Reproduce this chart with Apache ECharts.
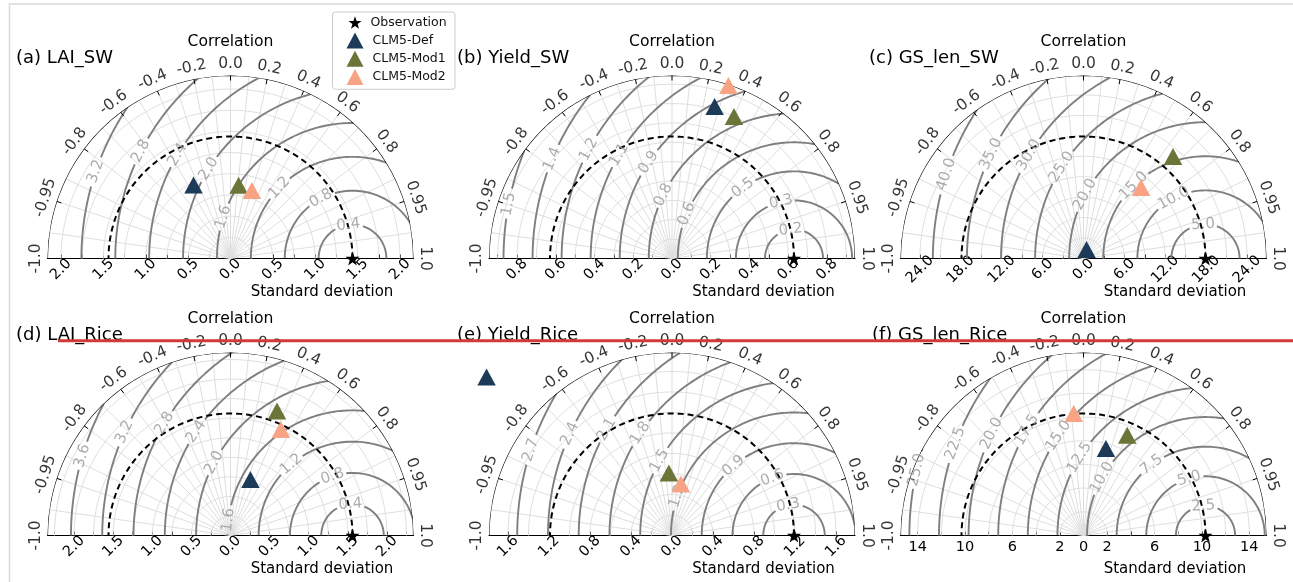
<!DOCTYPE html>
<html>
<head>
<meta charset="utf-8">
<script src="https://cdn.jsdelivr.net/npm/echarts@6/dist/echarts.min.js"></script>
<style>
  html, body { margin: 0; padding: 0; background: #ffffff; }
  #chart { width: 1293px; height: 582px; }
</style>
</head>
<body>
<div id="chart"></div>
<script>
// ---------- values ----------
const panelTitles = ['(a) LAI_SW', '(b) Yield_SW', '(c) GS_len_SW',
                     '(d) LAI_Rice', '(e) Yield_Rice', '(f) GS_len_Rice'];
const seriesNames = ['Observation', 'CLM5-Def', 'CLM5-Mod1', 'CLM5-Mod2'];

// standard deviation of the observations (reference point)
const obsStd   = [1.44, 0.63, 17.9, 1.56, 1.19, 10.3];
// models: standard deviation and correlation with the observations
const defStd   = [0.97, 0.815, 1.4, 0.76, 2.38, 7.58];
const defCorr  = [-0.45, 0.27, 0.32, 0.335, -0.76, 0.25];
const mod1Std  = [0.87, 0.80, 19.9, 1.70, 0.61, 9.23];
const mod1Corr = [0.11, 0.40, 0.66, 0.35, -0.05, 0.40];
const mod2Std  = [0.84, 0.94, 13.4, 1.50, 0.51, 10.34];
const mod2Corr = [0.30, 0.31, 0.63, 0.43, 0.17, -0.08];

// centred RMS difference contour levels
const rmsLevels = [
  [0.4, 0.8, 1.2, 1.6, 2.0, 2.4, 2.8, 3.2],
  [0.15, 0.3, 0.45, 0.6, 0.75, 0.9, 1.05, 1.2, 1.35, 1.5],
  [5, 10, 15, 20, 25, 30, 35, 40],
  [0.4, 0.8, 1.2, 1.6, 2.0, 2.4, 2.8, 3.2, 3.6],
  [0.3, 0.6, 0.9, 1.2, 1.5, 1.8, 2.1, 2.4, 2.7],
  [2.5, 5, 7.5, 10, 12.5, 15, 17.5, 20, 22.5, 25]
];

// standard deviation axis: labelled ticks, minor tick step, decimals
const stdLabelTicks = [
  [0, 0.5, 1.0, 1.5, 2.0],
  [0, 0.2, 0.4, 0.6, 0.8],
  [0, 6, 12, 18, 24],
  [0, 0.5, 1.0, 1.5, 2.0],
  [0, 0.4, 0.8, 1.2, 1.6],
  [0, 2, 6, 10, 14]
];
const stdTickStep   = [0.25, 0.1, 3, 0.25, 0.2, 2];
const stdDecimals   = [1, 1, 1, 1, 1, 0];
const stdLabelTilt  = [45, 45, 45, 45, 45, 0];

// correlation axis
const corrTicks = [-1.0, -0.95, -0.8, -0.6, -0.4, -0.2, 0.0, 0.2, 0.4, 0.6, 0.8, 0.95, 1.0];
const corrGrid  = [-0.99, -0.95, -0.9, -0.8, -0.7, -0.6, -0.5, -0.4, -0.3, -0.2, -0.1,
                   0.0, 0.1, 0.2, 0.3, 0.4, 0.5, 0.6, 0.7, 0.8, 0.9, 0.95, 0.99];

// ---------- layout ----------
const R = 183;
const colX = [230.5, 672, 1083.5];
const rowY = [258.5, 535.5];
const titleX = [16, 457, 869, 16, 457, 872];
// where each RMS label sits on its circle (degrees around the reference point)
const rmsLabelAngles = [
  [96.8, 117.8, 136, 162.2, 148, 149.3, 153.1, 161.3],
  [96.7, 103, 125.9, 157.5, 154, 146.5, 149.3, 152, 157.6, 169.2],
  [94.1, 117.8, 134.6, 152, 147.5, 149.6, 154, 162],
  [93.8, 108.6, 130.7, 172.8, 152.2, 146.4, 149.2, 155.6, 163.6],
  [100.8, 110.6, 130.9, 161.4, 150.9, 146.3, 150.5, 155.6, 162],
  [94, 106, 127.3, 150.7, 148.2, 145.8, 149.4, 154.5, 159.8, 167.2]
];

const FONT = 'DejaVu Sans';
const COLORS = { obs: '#000000', def: '#1d3a58', mod1: '#6a7537', mod2: '#f7a384' };
const GRID_COLOR = '#dedede';
const RMS_COLOR = '#7f7f7f';
const RMS_LABEL_COLOR = '#999999';
const STAR = 'path://M0,-10L2.35,-3.24L9.51,-3.09L3.8,1.24L5.88,8.09L0,4L-5.88,8.09L-3.8,1.24L-9.51,-3.09L-2.35,-3.24Z';
const BREAK = ['-', '-'];

const toDeg = 180 / Math.PI;
const acosDeg = c => Math.acos(Math.max(-1, Math.min(1, c))) * toDeg;

function fmtCorr(v) {
  const t = Math.round(v * 10);
  return Math.abs(v * 10 - t) < 1e-9 ? (t / 10).toFixed(1) : v.toFixed(2);
}
function fmtRms(v) { return (Math.round(v * 10 + 1e-9) / 10).toFixed(1); }
function textWidth(str, size) {
  let w = 0;
  for (const ch of str) w += (ch === '.' ? 0.318 : 0.636);
  return w * size;
}

const polar = [], angleAxis = [], radiusAxis = [], grid = [], xAxis = [], yAxis = [];
const series = [];
const texts = [];

function lineSeries(i, data, color, width, z, extra) {
  return Object.assign({
    type: 'line', coordinateSystem: 'polar', polarIndex: i,
    data: data, showSymbol: false, symbol: 'none', silent: true, animation: false,
    connectNulls: false, clip: false, z: z,
    lineStyle: { color: color, width: width }
  }, extra || {});
}

function markerSeries(i, name, symbol, size, color, point) {
  return {
    type: 'scatter', name: name, coordinateSystem: 'polar', polarIndex: i,
    animation: false, clip: false, z: 10, symbol: symbol, symbolSize: size,
    itemStyle: { color: color, opacity: 1 },
    emphasis: { disabled: true },
    data: [point]
  };
}

for (let i = 0; i < 6; i++) {
  const cx = colX[i % 3], cy = rowY[Math.floor(i / 3)];
  const ref = obsStd[i];
  const smax = 1.5 * ref;
  const ppu = R / smax;

  polar.push({ center: [cx, cy], radius: R });
  angleAxis.push({
    polarIndex: i, type: 'value', min: 0, max: 360, startAngle: 0, clockwise: false,
    axisLine: { show: false }, axisTick: { show: false }, axisLabel: { show: false },
    splitLine: { show: false }
  });
  radiusAxis.push({
    polarIndex: i, type: 'value', min: 0, max: smax,
    axisLine: { show: false }, axisTick: { show: false }, axisLabel: { show: false },
    splitLine: { show: false }
  });

  // baseline with the standard deviation ticks (both directions from the origin)
  const step = stdTickStep[i];
  const tickVals = [];
  const nStep = Math.floor(smax / step + 1e-9);
  for (let k = -nStep; k <= nStep; k++) tickVals.push(+(k * step).toFixed(6));
  const labelVals = [];
  stdLabelTicks[i].forEach(v => { labelVals.push(v); if (v !== 0) labelVals.unshift(-v); });
  labelVals.sort((a, b) => a - b);

  grid.push({ left: cx - R, top: cy - R, width: 2 * R, height: R });
  const tilt = stdLabelTilt[i];
  xAxis.push({
    gridIndex: i, type: 'value', min: -smax, max: smax,
    axisLine: { show: true, onZero: false, lineStyle: { color: '#000', width: 1.2 } },
    axisTick: { show: true, inside: true, length: 4, customValues: tickVals,
                lineStyle: { color: '#000', width: 1 } },
    axisLabel: {
      show: true, customValues: labelVals, rotate: tilt,
      align: 'center', verticalAlign: tilt ? 'middle' : 'top',
      margin: tilt ? 11 : 4,
      fontFamily: FONT, fontSize: 14.5, color: '#000',
      formatter: v => Math.abs(v).toFixed(stdDecimals[i])
    },
    splitLine: { show: false }
  });
  yAxis.push({ gridIndex: i, type: 'value', min: 0, max: smax, show: false });

  // light grid: circles at every std tick and radial lines at correlations
  const gridPts = [];
  for (let k = 1; k <= nStep; k++) {
    const v = k * step;
    if (v >= smax - 1e-9) continue;
    for (let th = 0; th <= 180; th += 1) gridPts.push([v, th]);
    gridPts.push(BREAK);
  }
  corrGrid.forEach(c => { const th = acosDeg(c); gridPts.push([0, th], [smax, th], BREAK); });
  series.push(lineSeries(i, gridPts, GRID_COLOR, 1, 1));

  // centred RMS difference circles around the reference point, with label gaps
  const rmsPts = [];
  const rmsLabels = [];
  rmsLevels[i].forEach((d, j) => {
    const cosMin = (smax * smax - ref * ref - d * d) / (2 * ref * d);
    if (cosMin <= -1) return;
    const phiStart = cosMin >= 1 ? 0 : acosDeg(cosMin);
    const text = fmtRms(d);
    const labPhi = rmsLabelAngles[i][j];
    const halfGap = (textWidth(text, 15) / 2 + 2) / (d * ppu) * toDeg;
    const phis = [];
    for (let p = phiStart; p < 180; p += 0.5) phis.push(p);
    phis.push(180);
    let inGap = false;
    phis.forEach(p => {
      if (labPhi != null && Math.abs(p - labPhi) < halfGap) {
        if (!inGap) rmsPts.push(BREAK);
        inGap = true;
        return;
      }
      inGap = false;
      const x = ref + d * Math.cos(p / toDeg), y = d * Math.sin(p / toDeg);
      rmsPts.push([Math.hypot(x, y), Math.atan2(y, x) * toDeg]);
    });
    rmsPts.push(BREAK);
    if (labPhi != null) {
      const x = ref + d * Math.cos(labPhi / toDeg), y = d * Math.sin(labPhi / toDeg);
      rmsLabels.push({
        value: [Math.hypot(x, y), Math.atan2(y, x) * toDeg],
        label: { formatter: text, rotate: labPhi - 90 }
      });
    }
  });
  series.push(lineSeries(i, rmsPts, RMS_COLOR, 1.9, 2));
  series.push({
    type: 'scatter', coordinateSystem: 'polar', polarIndex: i, silent: true, animation: false,
    clip: false, z: 5, symbolSize: 1, itemStyle: { color: 'rgba(0,0,0,0)' },
    label: { show: true, position: 'inside', align: 'center', verticalAlign: 'middle',
             color: RMS_LABEL_COLOR, fontFamily: FONT, fontSize: 15, textBorderWidth: 0 },
    data: rmsLabels
  });

  // outer arc and correlation ticks
  const arc = [];
  for (let th = 0; th <= 180; th += 0.5) arc.push([smax, th]);
  series.push(lineSeries(i, arc, '#000', 1.2, 3));
  const ticks = [];
  corrTicks.forEach(c => {
    if (Math.abs(c) === 1) return;
    const th = acosDeg(c);
    ticks.push([smax, th], [smax - 5 / ppu, th], BREAK);
  });
  series.push(lineSeries(i, ticks, '#000', 1, 3));

  // correlation tick labels
  series.push({
    type: 'scatter', coordinateSystem: 'polar', polarIndex: i, silent: true, animation: false,
    clip: false, z: 5, symbolSize: 1, itemStyle: { color: 'rgba(0,0,0,0)' },
    label: { show: true, position: 'inside', align: 'center', verticalAlign: 'middle',
             color: '#000', fontFamily: FONT, fontSize: 15.5, textBorderWidth: 0 },
    data: corrTicks.map(c => {
      const th = acosDeg(c);
      return { value: [smax * (R + 12) / R, th], label: { formatter: fmtCorr(c), rotate: th - 90 } };
    })
  });

  // reference standard deviation (dashed arc)
  const refArc = [];
  for (let th = 0; th <= 180; th += 0.5) refArc.push([ref, th]);
  series.push(lineSeries(i, refArc, '#000', 2, 4, { lineStyle: { color: '#000', width: 2, type: [6, 4] } }));

  // observation and models
  series.push(markerSeries(i, seriesNames[0], STAR, 14, COLORS.obs, [ref, 0]));
  series.push(markerSeries(i, seriesNames[1], 'triangle', [18.5, 17], COLORS.def, [defStd[i], acosDeg(defCorr[i])]));
  series.push(markerSeries(i, seriesNames[2], 'triangle', [18.5, 17], COLORS.mod1, [mod1Std[i], acosDeg(mod1Corr[i])]));
  series.push(markerSeries(i, seriesNames[3], 'triangle', [18.5, 17], COLORS.mod2, [mod2Std[i], acosDeg(mod2Corr[i])]));

  // panel texts
  texts.push({ type: 'text', x: titleX[i], y: cy - 200, z: 20,
               style: { text: panelTitles[i], font: '18px "' + FONT + '"', fill: '#000',
                        textAlign: 'left', textVerticalAlign: 'middle' } });
  texts.push({ type: 'text', x: cx, y: cy - 217, z: 20,
               style: { text: 'Correlation', font: '15.6px "' + FONT + '"', fill: '#000',
                        textAlign: 'center', textVerticalAlign: 'middle' } });
  texts.push({ type: 'text', x: cx + 91.5, y: cy + 33.5, z: 20,
               style: { text: 'Standard deviation', font: '15px "' + FONT + '"', fill: '#000',
                        textAlign: 'center', textVerticalAlign: 'middle' } });
}

const legendText = { fontFamily: FONT, fontSize: 12.5, color: '#111', padding: [0, 0, 0, 4] };

const option = {
  backgroundColor: '#ffffff',
  animation: false,
  polar, angleAxis, radiusAxis, grid, xAxis, yAxis, series,
  legend: [
    { left: 348.5, top: 16, orient: 'vertical', padding: 0, itemWidth: 13, itemHeight: 13,
      selectedMode: false, z: 6, textStyle: legendText,
      data: [{ name: seriesNames[0], icon: STAR }] },
    { left: 346.5, top: 32.5, orient: 'vertical', padding: 0, itemGap: 2.3,
      itemWidth: 17, itemHeight: 16, selectedMode: false, z: 6, textStyle: legendText,
      data: seriesNames.slice(1).map(n => ({ name: n, icon: 'triangle' })) }
  ],
  graphic: {
    elements: [
      { type: 'polyline', z: 0, silent: true,
        shape: { points: [[9.5, 582], [9.5, 4], [1293, 4]] },
        style: { stroke: '#d9d9d9', lineWidth: 1.5, fill: null } },
      { type: 'rect', z: 3, silent: true,
        shape: { x: 332.5, y: 12, width: 122.5, height: 77.3, r: 3 },
        style: { fill: '#ffffff', stroke: '#cccccc', lineWidth: 1 } },
      ...texts,
      { type: 'line', z: 100, silent: true,
        shape: { x1: 58, y1: 340.7, x2: 1293, y2: 340.7 },
        style: { stroke: '#d23a3a', lineWidth: 3 } }
    ]
  }
};

const chart = echarts.init(document.getElementById('chart'));
chart.setOption(option);
</script>
</body>
</html>
